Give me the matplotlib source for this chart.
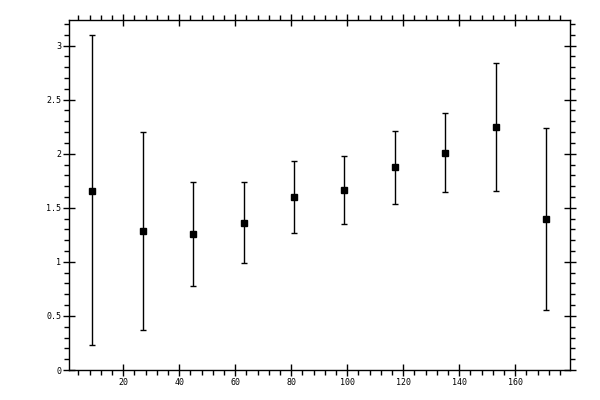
import matplotlib
matplotlib.use("Agg")
import matplotlib.pyplot as plt
from matplotlib.ticker import MultipleLocator

x = [9, 27, 45, 63, 81, 99, 117, 135, 153, 171]
y = [1.657, 1.287, 1.259, 1.361, 1.602, 1.667, 1.880, 2.009, 2.250, 1.398]
upper = [3.095, 2.204, 1.741, 1.741, 1.935, 1.981, 2.213, 2.380, 2.843, 2.241]
lower = [0.234, 0.370, 0.778, 0.991, 1.269, 1.352, 1.537, 1.648, 1.657, 0.558]

err_lo = [yy - lo for yy, lo in zip(y, lower)]
err_hi = [hi - yy for yy, hi in zip(y, upper)]

plt.rcParams["font.family"] = "DejaVu Sans Mono"

fig = plt.figure(figsize=(6, 4), dpi=100)
ax = fig.add_axes([0.1158, 0.075, 0.8342, 0.876])

ax.errorbar(x, y, yerr=[err_lo, err_hi], fmt="s", color="black",
            markersize=5, elinewidth=1, capsize=2.5, capthick=1)

ax.set_xlim(0.8, 179.6)
ax.set_ylim(0, 3.24)
ax.xaxis.set_major_locator(MultipleLocator(20))
ax.xaxis.set_minor_locator(MultipleLocator(4))
ax.yaxis.set_major_locator(MultipleLocator(0.5))
ax.yaxis.set_minor_locator(MultipleLocator(0.1))

ax.xaxis.set_major_formatter(plt.FuncFormatter(lambda v, p: "" if v == 0 else "%g" % v))
ax.yaxis.set_major_formatter(plt.FuncFormatter(lambda v, p: "%g" % v))

ax.tick_params(which="major", direction="inout", length=8, width=1,
               top=True, right=True, labelsize=6, pad=2)
ax.tick_params(which="minor", direction="out", length=3.5, width=1,
               top=True, right=True)
for s in ax.spines.values():
    s.set_linewidth(1)

fig.savefig("out.png", dpi=100)
